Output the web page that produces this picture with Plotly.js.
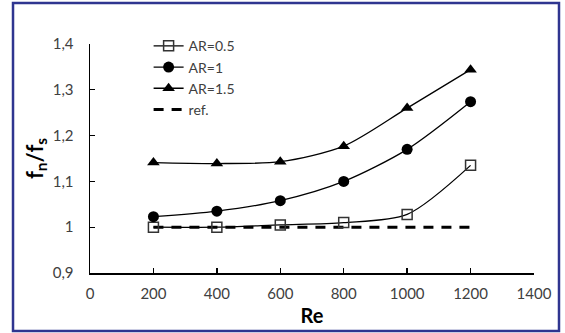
<!DOCTYPE html>
<html>
<head>
<meta charset="utf-8">
<script src="https://cdn.plot.ly/plotly-3.0.1.min.js"></script>
<style>
html,body{margin:0;padding:0;background:#fff;}
#chart{width:565px;height:333px;}
</style>
</head>
<body>
<div id="chart"></div>
<script>
const re = [200, 400, 600, 800, 1000, 1200];
const ar05 = [1.000, 1.000, 1.005, 1.010, 1.028, 1.135];
const ar1 = [1.023, 1.035, 1.058, 1.100, 1.170, 1.274];
const ar15 = [1.141, 1.139, 1.143, 1.177, 1.260, 1.344];
const refX = [200, 1200];
const refY = [1.0, 1.0];
const names = ['AR=0.5', 'AR=1', 'AR=1.5', 'ref.'];
const xTicks = [0, 200, 400, 600, 800, 1000, 1200, 1400];
const yTicks = [0.9, 1.0, 1.1, 1.2, 1.3, 1.4];

const lineStyle = {color: '#000', width: 1.3, shape: 'spline', smoothing: 0.8};
const data = [
  {x: refX, y: refY, name: names[3], mode: 'lines',
   line: {color: '#000', width: 3, dash: '10px,8px'}, legendrank: 4},
  {x: re, y: ar05, name: names[0], mode: 'lines+markers', line: lineStyle,
   marker: {symbol: 'square-open', size: 10, color: '#333', line: {width: 1.5, color: '#333'}}, legendrank: 1},
  {x: re, y: ar1, name: names[1], mode: 'lines+markers', line: lineStyle,
   marker: {symbol: 'circle', size: 11, color: '#000'}, legendrank: 2},
  {x: re, y: ar15, name: names[2], mode: 'lines+markers', line: lineStyle,
   marker: {symbol: 'triangle-up', size: 11, color: '#000'}, legendrank: 3}
];

const xTitleFont = {size: 20, color: '#000', family: 'Lato, sans-serif', weight: 'bold'};
const yTitleFont = {size: 22, color: '#000', family: 'Lato, sans-serif', weight: 'bold'};
const layout = {
  width: 565, height: 333,
  margin: {l: 90, r: 31, t: 44, b: 60},
  paper_bgcolor: '#fff', plot_bgcolor: '#fff',
  separators: ', ',
  font: {family: 'Lato, "Liberation Sans", sans-serif', size: 15, color: '#404040'},
  showlegend: true,
  legend: {x: 0.132, y: 1.06, xanchor: 'left', yanchor: 'top', bgcolor: 'rgba(0,0,0,0)',
    font: {size: 14, color: '#404040'}, tracegroupgap: 0},
  xaxis: {range: [0, 1400], tickvals: xTicks,
    showgrid: false, zeroline: false, showline: true, linecolor: '#000', linewidth: 1.5,
    ticks: 'inside', ticklen: 5, tickwidth: 1.3, tickcolor: '#000', ticklabelstandoff: 6,
    tickfont: {size: 15, color: '#404040'},
    title: {text: 'Re', font: xTitleFont, standoff: 8}},
  yaxis: {range: [0.9, 1.4], tickvals: yTicks,
    showgrid: false, zeroline: false, showline: true, linecolor: '#000', linewidth: 1.5,
    ticks: 'inside', ticklen: 5, tickwidth: 1.3, tickcolor: '#000', ticklabelstandoff: 12,
    tickfont: {size: 15, color: '#404040'},
    title: {text: 'f<sub>n</sub>/f<sub>s</sub>', font: yTitleFont, standoff: 3}},
  shapes: [{type: 'rect', xref: 'paper', yref: 'paper',
    x0: -0.1734, x1: 1.0563, y0: -0.2533, y1: 1.179,
    line: {color: '#2f3590', width: 2.5}, fillcolor: 'rgba(0,0,0,0)', layer: 'above'}]
};

Plotly.newPlot('chart', data, layout, {displayModeBar: false, staticPlot: true});
</script>
</body>
</html>
